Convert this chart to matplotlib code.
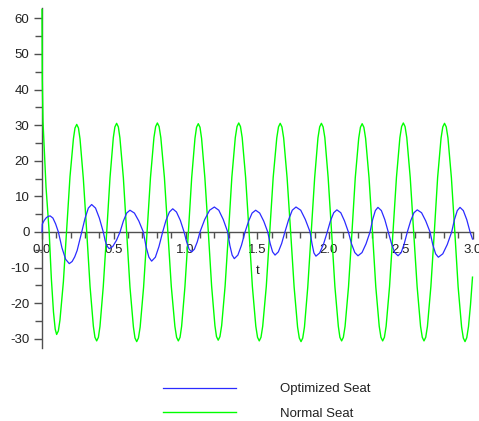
import matplotlib

matplotlib.use("Agg")
import matplotlib.pyplot as plt
from matplotlib.ticker import MultipleLocator, FormatStrFormatter

plt.rcParams["font.family"] = ["Liberation Sans", "DejaVu Sans"]
plt.rcParams["axes.unicode_minus"] = False

# values (time in s)
normal_t = [
    0.0, 0.002, 0.007, 0.028, 0.050, 0.065, 0.080, 0.092, 0.102, 0.114,
    0.125, 0.149, 0.172, 0.195, 0.219, 0.230, 0.242, 0.254,
    0.265, 0.288, 0.312, 0.335, 0.358, 0.369, 0.381, 0.393,
    0.404, 0.427, 0.451, 0.474, 0.497, 0.508, 0.520, 0.532,
    0.543, 0.567, 0.590, 0.613, 0.637, 0.648, 0.660, 0.672,
    0.684, 0.708, 0.732, 0.756, 0.780, 0.792, 0.804, 0.816,
    0.828, 0.853, 0.877, 0.901, 0.926, 0.938, 0.950, 0.962,
    0.973, 0.996, 1.020, 1.043, 1.066, 1.077, 1.089, 1.101,
    1.112, 1.135, 1.159, 1.182, 1.205, 1.216, 1.228, 1.240,
    1.252, 1.276, 1.300, 1.323, 1.347, 1.359, 1.371, 1.383,
    1.395, 1.419, 1.443, 1.466, 1.490, 1.502, 1.514, 1.526,
    1.538, 1.563, 1.587, 1.611, 1.636, 1.648, 1.660, 1.672,
    1.684, 1.708, 1.733, 1.757, 1.781, 1.793, 1.805, 1.817,
    1.829, 1.852, 1.876, 1.900, 1.923, 1.935, 1.947, 1.959,
    1.971, 1.994, 2.018, 2.041, 2.065, 2.076, 2.088, 2.100,
    2.112, 2.136, 2.160, 2.183, 2.207, 2.219, 2.231, 2.243,
    2.255, 2.279, 2.303, 2.326, 2.350, 2.362, 2.374, 2.386,
    2.398, 2.422, 2.446, 2.470, 2.494, 2.506, 2.518, 2.530,
    2.542, 2.566, 2.590, 2.614, 2.638, 2.650, 2.662, 2.674,
    2.686, 2.710, 2.734, 2.757, 2.781, 2.793, 2.805, 2.817,
    2.829, 2.853, 2.877, 2.900, 2.924, 2.936, 2.948, 2.960,
    2.972, 2.986, 3.0,
]
normal_seat = [
    62.5, 43.0, 31.0, 12.6, 0.0, -13.0, -22.5, -27.3, -28.8, -27.8,
    -24.8, -14.0, 0.7, 15.5, 26.2, 29.2, 30.2, 29.2,
    26.1, 15.0, -0.2, -15.4, -26.5, -29.6, -30.6, -29.6,
    -26.5, -15.3, 0.0, 15.3, 26.5, 29.5, 30.5, 29.5,
    26.4, 15.2, -0.2, -15.5, -26.7, -29.8, -30.8, -29.8,
    -26.7, -15.5, -0.1, 15.3, 26.5, 29.6, 30.6, 29.6,
    26.5, 15.3, 0.0, -15.3, -26.5, -29.6, -30.6, -29.6,
    -26.5, -15.4, -0.1, 15.2, 26.3, 29.4, 30.4, 29.4,
    26.3, 15.2, 0.0, -15.2, -26.3, -29.4, -30.4, -29.4,
    -26.3, -15.2, 0.1, 15.4, 26.5, 29.6, 30.6, 29.6,
    26.5, 15.3, 0.0, -15.3, -26.5, -29.6, -30.6, -29.6,
    -26.5, -15.3, 0.0, 15.3, 26.4, 29.5, 30.5, 29.5,
    26.4, 15.2, -0.2, -15.5, -26.7, -29.8, -30.8, -29.8,
    -26.7, -15.5, -0.2, 15.2, 26.4, 29.5, 30.5, 29.5,
    26.5, 15.3, 0.0, -15.3, -26.5, -29.6, -30.6, -29.6,
    -26.5, -15.4, -0.1, 15.2, 26.3, 29.4, 30.4, 29.4,
    26.3, 15.2, -0.1, -15.4, -26.5, -29.6, -30.6, -29.6,
    -26.5, -15.3, 0.0, 15.3, 26.5, 29.6, 30.6, 29.6,
    26.5, 15.3, 0.0, -15.3, -26.5, -29.6, -30.6, -29.6,
    -26.5, -15.3, 0.0, 15.3, 26.4, 29.5, 30.5, 29.5,
    26.4, 15.2, -0.2, -15.5, -26.7, -29.8, -30.8, -29.7,
    -26.6, -20.5, -12.7,
]

optimized_t = [
    0.0, 0.002, 0.015, 0.030, 0.045, 0.057,
    0.076, 0.095, 0.114, 0.139, 0.165, 0.190,
    0.210, 0.228, 0.245, 0.260, 0.277,
    0.300, 0.323, 0.346, 0.373, 0.400, 0.427,
    0.440, 0.452, 0.468, 0.493, 0.519, 0.544,
    0.567, 0.590, 0.613, 0.644, 0.675, 0.706,
    0.725, 0.745, 0.764, 0.790, 0.815, 0.841,
    0.864, 0.888, 0.911, 0.937, 0.964, 0.990,
    1.008, 1.025, 1.043, 1.062, 1.082, 1.101,
    1.134, 1.168, 1.201, 1.232, 1.263, 1.294,
    1.309, 1.325, 1.340, 1.365, 1.390, 1.415,
    1.440, 1.464, 1.489, 1.517, 1.545, 1.573,
    1.590, 1.607, 1.624, 1.647, 1.670, 1.693,
    1.719, 1.744, 1.770, 1.803, 1.835, 1.868,
    1.882, 1.895, 1.909, 1.935, 1.962, 1.988,
    2.010, 2.033, 2.055, 2.082, 2.108, 2.135,
    2.157, 2.180, 2.202, 2.230, 2.258, 2.286,
    2.304, 2.323, 2.341, 2.365, 2.389, 2.413,
    2.436, 2.458, 2.481, 2.503, 2.524, 2.546,
    2.569, 2.592, 2.615, 2.645, 2.674, 2.704,
    2.723, 2.743, 2.762, 2.793, 2.824, 2.855,
    2.874, 2.894, 2.913, 2.936, 2.960, 2.983,
    3.0,
]
optimized_seat = [
    0.0, 2.2, 3.2, 4.0, 4.4, 4.5,
    3.9, 2.25, 0.0, -4.45, -7.7, -8.9,
    -8.3, -7.0, -5.2, -2.8, 0.0,
    3.85, 6.7, 7.7, 6.7, 3.85, 0.0,
    -2.4, -3.9, -4.7, -4.1, -2.35, 0.0,
    3.05, 5.3, 6.1, 5.3, 3.05, 0.0,
    -4.1, -7.1, -8.2, -7.1, -4.1, 0.0,
    3.25, 5.6, 6.5, 5.6, 3.25, 0.0,
    -2.8, -4.85, -5.6, -4.85, -2.8, 0.0,
    3.5, 6.1, 7.0, 6.1, 3.5, 0.0,
    -3.75, -6.5, -7.5, -6.5, -3.75, 0.0,
    3.05, 5.3, 6.1, 5.3, 3.05, 0.0,
    -3.25, -5.6, -6.5, -5.6, -3.25, 0.0,
    3.5, 6.1, 7.0, 6.1, 3.5, 0.0,
    -3.4, -5.9, -6.8, -5.9, -3.4, 0.0,
    3.1, 5.4, 6.2, 5.4, 3.1, 0.0,
    -3.35, -5.8, -6.7, -5.8, -3.35, 0.0,
    3.45, 6.0, 6.9, 6.0, 3.45, 0.0,
    -3.35, -5.8, -6.7, -5.8, -3.35, 0.0,
    3.1, 5.4, 6.2, 5.4, 3.1, 0.0,
    -3.55, -6.15, -7.1, -6.15, -3.55, 0.0,
    3.45, 6.0, 6.9, 6.0, 3.45, 0.0,
    -2.0,
]

series_labels = ["Optimized Seat", "Normal Seat"]
series_colors = ["#2b2bff", "#00ff00"]

AXIS_GREY = "#505050"
TEXT_COLOR = "#222222"

fig = plt.figure(figsize=(4.79, 4.21), dpi=100)
fig.patch.set_facecolor("white")
ax = fig.add_axes([42 / 479, 1 - 348 / 421, 430.5 / 479, 340 / 421])

# curves are drawn over the axis lines, as in the original
ax.plot(optimized_t, optimized_seat, color=series_colors[0], lw=0.9, label=series_labels[0],
        zorder=4, clip_on=False)
ax.plot(normal_t, normal_seat, color=series_colors[1], lw=1.0, label=series_labels[1],
        zorder=3, clip_on=False)

ax.set_xlim(0, 3.0)
ax.set_ylim(-32.6, 62.9)

for side in ["top", "right"]:
    ax.spines[side].set_visible(False)
ax.spines["bottom"].set_position(("data", 0))
ax.spines["left"].set_position(("data", 0))
for side in ["bottom", "left"]:
    ax.spines[side].set_color(AXIS_GREY)
    ax.spines[side].set_linewidth(1.0)
    ax.spines[side].set_zorder(2)

ax.xaxis.set_major_locator(MultipleLocator(0.5))
ax.xaxis.set_minor_locator(MultipleLocator(0.1))
ax.xaxis.set_major_formatter(FormatStrFormatter("%.1f"))
ax.yaxis.set_major_locator(MultipleLocator(10))
ax.yaxis.set_minor_locator(MultipleLocator(5))

ax.tick_params(axis="x", which="major", direction="out", length=5, width=1, color=AXIS_GREY,
               labelsize=9.5, labelcolor=TEXT_COLOR, pad=4)
ax.tick_params(axis="x", which="minor", direction="out", length=4, width=1, color=AXIS_GREY)
ax.tick_params(axis="y", which="major", direction="out", length=6, width=1, color=AXIS_GREY,
               labelsize=9.5, labelcolor=TEXT_COLOR, pad=3)
ax.tick_params(axis="y", which="minor", direction="out", length=5, width=1, color=AXIS_GREY)

ax.text(0.5, (348 - 271.5) / 340, "t", transform=ax.transAxes, ha="center", va="center",
        fontsize=9.5, color=TEXT_COLOR)

fig.legend(loc="center left", bbox_to_anchor=(163 / 479, 1 - 401.5 / 421), frameon=False,
           fontsize=9.5, handlelength=5.5, handletextpad=3.4, labelspacing=0.95,
           borderpad=0, borderaxespad=0, labelcolor=TEXT_COLOR)

fig.savefig("out.png", dpi=100)
